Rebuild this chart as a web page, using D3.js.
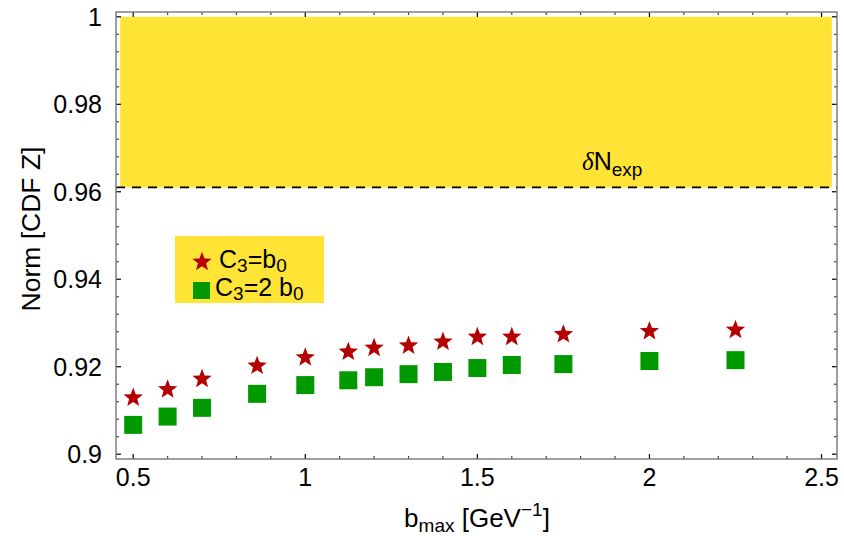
<!DOCTYPE html>
<html>
<head>
<meta charset="utf-8">
<script src="https://cdn.jsdelivr.net/npm/d3@7"></script>
<style>
  body { margin: 0; background: #fff; }
  svg { display: block; }
  text { font-family: "Liberation Sans", Arial, Helvetica, sans-serif; fill: #000; }
</style>
</head>
<body>
<svg id="chart" width="844" height="536"></svg>
<script>
// b_max values [GeV^-1]
const bmax = [0.5, 0.6, 0.7, 0.86, 1, 1.125, 1.2, 1.3, 1.4, 1.5, 1.6, 1.75, 2, 2.25];
// normalisation of the CDF Z cross section, C3 = b0
const normC3b0 = [0.9129, 0.9148, 0.9172, 0.9202, 0.9221, 0.9234, 0.9243, 0.9248, 0.9257, 0.9268, 0.9268, 0.9274, 0.9281, 0.9284];
// normalisation of the CDF Z cross section, C3 = 2 b0
const normC32b0 = [0.9067, 0.9086, 0.9106, 0.9138, 0.9158, 0.9169, 0.9176, 0.9183, 0.9188, 0.9197, 0.9204, 0.9206, 0.9213, 0.9215];

const xTicks = [0.5, 1, 1.5, 2, 2.5];
const yTicks = [0.9, 0.92, 0.94, 0.96, 0.98, 1];
const xMinorTicks = d3.range(5, 26).map(d => d / 10).filter(d => !xTicks.includes(d));
const yMinorTicks = d3.range(225, 251).map(d => d / 250).filter(d => !yTicks.some(t => Math.abs(t - d) < 1e-9));

// experimental normalisation uncertainty band
const bandY = [0.961, 1.0];
const bandX = [0.462, 2.53];

const W = 844, H = 536;
const margin = { left: 116, right: 7, top: 12, bottom: 77 };

const x = d3.scaleLinear().domain([0.45, 2.545]).range([margin.left, W - margin.right]);
const y = d3.scaleLinear().domain([0.8989, 1.0011]).range([H - margin.bottom, margin.top]);

const svg = d3.select("#chart");

const starColor = "#b40000";
const squareColor = "#009a00";
const bandColor = "#ffe435";

// band
svg.append("rect")
  .attr("x", x(bandX[0])).attr("y", y(bandY[1]))
  .attr("width", x(bandX[1]) - x(bandX[0]))
  .attr("height", y(bandY[0]) - y(bandY[1]))
  .attr("fill", bandColor);

svg.append("line")
  .attr("x1", x(0.45)).attr("x2", x(2.545))
  .attr("y1", y(bandY[0])).attr("y2", y(bandY[0]))
  .attr("stroke", "#000").attr("stroke-width", 1.7)
  .attr("stroke-dasharray", "9,7");

// band label
const lab = svg.append("text")
  .attr("x", 582).attr("y", y(bandY[0]) - 17)
  .attr("font-size", 25);
lab.append("tspan").attr("font-family", "'Liberation Serif', 'Times New Roman', serif").attr("font-style", "italic").text("δ");
lab.append("tspan").text("N");
lab.append("tspan").attr("font-size", 19).attr("dy", 6).text("exp");

// frame
const fx0 = x.range()[0], fx1 = x.range()[1], fy0 = y.range()[1], fy1 = y.range()[0];

const ticks = svg.append("g");
function hTick(v, len, col) {
  ticks.append("line").attr("x1", fx0).attr("x2", fx0 + len).attr("y1", y(v)).attr("y2", y(v)).attr("stroke", col).attr("stroke-width", 1.2);
  ticks.append("line").attr("x1", fx1).attr("x2", fx1 - len).attr("y1", y(v)).attr("y2", y(v)).attr("stroke", col).attr("stroke-width", 1.2);
}
function vTick(v, len, col) {
  ticks.append("line").attr("y1", fy1).attr("y2", fy1 - len).attr("x1", x(v)).attr("x2", x(v)).attr("stroke", col).attr("stroke-width", 1.2);
  ticks.append("line").attr("y1", fy0).attr("y2", fy0 + len).attr("x1", x(v)).attr("x2", x(v)).attr("stroke", col).attr("stroke-width", 1.2);
}
yTicks.forEach(v => hTick(v, 5, "#000"));
yMinorTicks.forEach(v => hTick(v, 3, "#444"));
xTicks.forEach(v => vTick(v, 5, "#000"));
xMinorTicks.forEach(v => vTick(v, 3, "#444"));

svg.append("rect")
  .attr("x", fx0).attr("y", fy0)
  .attr("width", fx1 - fx0).attr("height", fy1 - fy0)
  .attr("fill", "none").attr("stroke", "#777").attr("stroke-width", 1.4);

// tick labels
svg.append("g").selectAll("text").data(yTicks).join("text")
  .attr("x", fx0 - 14).attr("y", d => y(d)).attr("dy", "0.36em")
  .attr("text-anchor", "end").attr("font-size", 25)
  .text(d => String(d));

svg.append("g").selectAll("text").data(xTicks).join("text")
  .attr("x", d => x(d)).attr("y", fy1 + 27)
  .attr("text-anchor", "middle").attr("font-size", 25)
  .text(d => String(d));

// axis titles
const xt = svg.append("text").attr("x", 477).attr("y", 527).attr("text-anchor", "middle").attr("font-size", 26);
xt.append("tspan").text("b");
xt.append("tspan").attr("font-size", 19).attr("dy", 5).text("max");
xt.append("tspan").attr("dy", -5).text(" [GeV");
xt.append("tspan").attr("font-size", 19).attr("dy", -11).text("−1");
xt.append("tspan").attr("dy", 11).text("]");

svg.append("text")
  .attr("transform", `translate(40,${229}) rotate(-90)`)
  .attr("text-anchor", "middle").attr("font-size", 26.5)
  .text("Norm [CDF Z]");

// star marker path
function starPath(R, r) {
  const pts = [];
  for (let i = 0; i < 10; i++) {
    const rad = i % 2 === 0 ? R : r;
    const a = -Math.PI / 2 + i * Math.PI / 5;
    pts.push([rad * Math.cos(a), rad * Math.sin(a)]);
  }
  return "M" + pts.map(p => p.join(",")).join("L") + "Z";
}
const star = starPath(10.2, 4.3);
const sq = 18;

// series
svg.append("g").selectAll("path").data(bmax).join("path")
  .attr("d", star)
  .attr("transform", (d, i) => `translate(${x(d)},${y(normC3b0[i])})`)
  .attr("fill", starColor);

svg.append("g").selectAll("rect").data(bmax).join("rect")
  .attr("x", d => x(d) - sq / 2)
  .attr("y", (d, i) => y(normC32b0[i]) - sq / 2)
  .attr("width", sq).attr("height", sq)
  .attr("fill", squareColor);

// legend
const lg = svg.append("g");
lg.append("rect").attr("x", 175).attr("y", 236).attr("width", 149).attr("height", 67).attr("fill", bandColor);
lg.append("path").attr("d", star).attr("transform", "translate(202,262)").attr("fill", starColor);
lg.append("rect").attr("x", 193).attr("y", 282).attr("width", 17).attr("height", 17).attr("fill", squareColor);
const l1 = lg.append("text").attr("x", 219).attr("y", 268).attr("font-size", 25);
l1.append("tspan").text("C");
l1.append("tspan").attr("font-size", 19).attr("dy", 4).text("3");
l1.append("tspan").attr("dy", -4).text("=b");
l1.append("tspan").attr("font-size", 19).attr("dy", 4).text("0");
const l2 = lg.append("text").attr("x", 215).attr("y", 296).attr("font-size", 25);
l2.append("tspan").text("C");
l2.append("tspan").attr("font-size", 19).attr("dy", 4).text("3");
l2.append("tspan").attr("dy", -4).text("=2 b");
l2.append("tspan").attr("font-size", 19).attr("dy", 4).text("0");
</script>
</body>
</html>
